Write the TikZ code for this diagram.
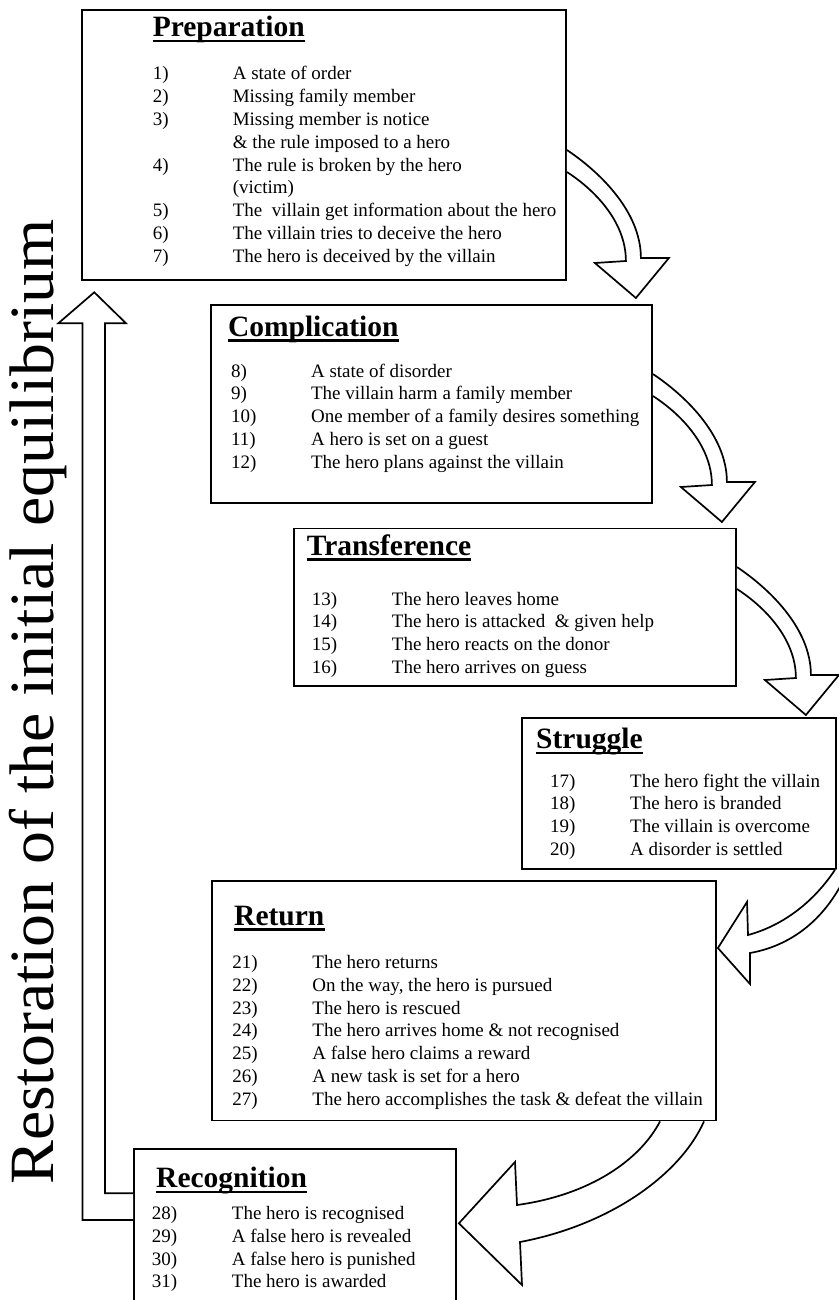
\documentclass[tikz,border=0pt]{standalone}
\usepackage{fontspec}
\usepackage{graphicx}
\setmainfont{Liberation Serif}
\usetikzlibrary{calc}

\tikzset{
  box/.style={draw=black, line width=1.9pt, fill=white, anchor=north west, inner sep=0pt},
  blockarrow/.style={draw=black, line width=1.7pt, fill=white, line join=miter},
  heading/.style={anchor=base west, inner sep=0pt, font=\fontsize{29.5}{34}\selectfont\bfseries},
  items/.style={anchor=base west, inner sep=0pt, font=\fontsize{19}{22.8}\selectfont},
  headrule/.style={line width=2.4pt},
  % curved block arrow leaving a box on its right side and pointing down
  bendarrow/.pic={
    \draw[blockarrow] (0,0) .. controls (30,20) and (74,60) .. (74,108)
      -- (102,108) -- (69,148) -- (28,113) -- (59,111)
      .. controls (59,70) and (25,38) .. (0,22);
  }
}

\newcommand{\itemlist}[1]{\begin{tabular}[t]{@{}p{80pt}@{}l@{}}#1\end{tabular}}

\begin{document}
\begin{tikzpicture}[x=1pt,y=-1pt]
\useasboundingbox (0,0) rectangle (838,1300);

% ---- stage boxes ----
\node[box, minimum width=484pt, minimum height=270pt]   (prep)  at (81,9) {};
\node[box, minimum width=441pt, minimum height=198pt]   (comp)  at (210,304) {};
\node[box, minimum width=442pt, minimum height=157.5pt] (trans) at (293,527.5) {};
\node[box, minimum width=314pt, minimum height=151pt]   (strug) at (521,717) {};
\node[box, minimum width=504pt, minimum height=239.5pt] (ret)   at (211,880) {};
\node[box, minimum width=322pt, minimum height=175pt]   (recog) at (133,1148.3) {};

% ---- headings ----
\node[heading] (prepT)  at (152.6,36.7) {Preparation};
\node[heading] (compT)  at (227.8,336)  {Complication};
\node[heading] (transT) at (306.7,555)  {Transference};
\node[heading] (strugT) at (536,748.3)  {Struggle};
\node[heading] (retT)   at (234,925)    {Return};
\node[heading] (recogT) at (156,1187.3) {Recognition};
\foreach \t in {prepT,compT,transT,strugT,retT,recogT}
  \draw[headrule] ($(\t.base west)+(0,4.5)$) -- ($(\t.base east)+(0,4.5)$);

% ---- numbered lists ----
\node[items] (prepL) at (152.6,80) {\itemlist{
1) & A state of order\\
2) & Missing family member\\
3) & Missing member is notice\\
   & \& the rule imposed to a hero\\
4) & The rule is broken by the hero\\
   & (victim)\\
5) & The \ villain get information about the hero\\
6) & The villain tries to deceive the hero\\
7) & The hero is deceived by the villain}};

\node[items] (compL) at (230.9,377) {\itemlist{
8) & A state of disorder\\
9) & The villain harm a family member\\
10) & One member of a family desires something\\
11) & A hero is set on a guest\\
12) & The hero plans against the villain}};

\node[items] (transL) at (311.7,605) {\itemlist{
13) & The hero leaves home\\
14) & The hero is attacked \ \& given help\\
15) & The hero reacts on the donor\\
16) & The hero arrives on guess}};

\node[items] (strugL) at (550,787) {\itemlist{
17) & The hero fight the villain\\
18) & The hero is branded\\
19) & The villain is overcome\\
20) & A disorder is settled}};

\node[items] (retL) at (232.2,968.5) {\itemlist{
21) & The hero returns\\
22) & On the way, the hero is pursued\\
23) & The hero is rescued\\
24) & The hero arrives home \& not recognised\\
25) & A false hero claims a reward\\
26) & A new task is set for a hero\\
27) & The hero accomplishes the task \& defeat the villain}};

\node[items] (recogL) at (151.7,1219.5) {\itemlist{
28) & The hero is recognised\\
29) & A false hero is revealed\\
30) & A false hero is punished\\
31) & The hero is awarded}};

% ---- curved block arrows between the stages ----
\pic at ($(prep.north east)+(0,141)$) {bendarrow};
\pic at ($(comp.north east)+(0,70)$) {bendarrow};
\pic at ($(trans.north east)+(0,39.5)$) {bendarrow};

% Struggle -> Return
\draw[blockarrow] ($(strug.south east)+(-2,0)$)
   .. controls (815,900) and (785,925) .. (748,935)
   -- (747,902) -- ($(ret.north east)+(1,68)$) -- (750,984) -- (750,953)
   .. controls (795,945) and (830,915) .. (850,866);

% Return -> Recognition
\draw[blockarrow] ($(ret.south west)+(449,0)$)
   .. controls (640,1160) and (590,1195) .. (517,1205)
   -- (515,1162) -- ($(recog.north east)+(2,75)$) -- (522,1285) -- (520,1242)
   .. controls (610,1225) and (680,1175) .. ($(ret.south west)+(493,0)$);

% ---- return loop back to the start ----
\draw[blockarrow] ($(recog.north west)+(0,45)$) -- (105,1193.3) -- (105,323.3)
   -- (126,323.3) -- (94.3,292.3) -- (58.3,323.3) -- (82.5,323.3)
   -- (82.5,1220) -- ($(recog.north west)+(0,71.7)$);

\node[rotate=90, anchor=base west, inner sep=0pt, font=\fontsize{63}{70}\selectfont]
   (restore) at (53,1185) {\scalebox{1.045}[1]{Restoration of the initial equilibrium}};
\end{tikzpicture}
\end{document}
